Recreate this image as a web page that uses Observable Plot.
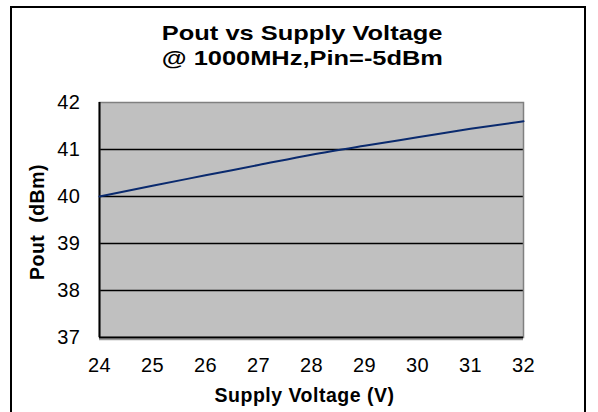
<!DOCTYPE html>
<html>
<head>
<meta charset="utf-8">
<script src="https://cdn.jsdelivr.net/npm/d3@7"></script>
<script src="https://cdn.jsdelivr.net/npm/@observablehq/plot@0.6"></script>
<style>
  html, body { margin: 0; padding: 0; background: #fff; }
  #wrap { position: relative; width: 598px; height: 412px; overflow: hidden; font-family: "Liberation Sans", Arial, sans-serif; }
  #frame { position: absolute; left: 10px; top: 6px; width: 572px; height: 420px; border: 2px solid #000; pointer-events: none; }
  #title { height: 90px; box-sizing: border-box; padding-top: 21px; text-align: center; font-weight: bold; font-size: 20.5px; line-height: 24.5px; color: #000; }
  #title span { display: inline-block; transform: scaleX(1.24); transform-origin: center; }
  #chart svg { display: block; }
</style>
</head>
<body>
<div id="wrap">
  <div id="title" style="padding-left:7px"><span>Pout vs Supply Voltage</span><br><span>@ 1000MHz,Pin=-5dBm</span></div>
  <div id="chart"></div>
  <div id="frame"></div>
</div>
<script>
const voltage = [24, 25, 26, 27, 28, 29, 30, 31, 32];
const pout = [40.00, 40.23, 40.45, 40.67, 40.89, 41.08, 41.26, 41.44, 41.60];
const xTicks = [24, 25, 26, 27, 28, 29, 30, 31, 32];
const yTicks = [37, 38, 39, 40, 41, 42];
const gridValues = [38, 39, 40, 41];
const xTitle = "Supply Voltage (V)";
const yTitle = "Pout  (dBm)";

const data = voltage.map((v, i) => ({v, p: pout[i]}));

const chart = Plot.plot({
  width: 598,
  height: 322,
  marginTop: 12,
  marginBottom: 75,
  marginLeft: 99,
  marginRight: 75,
  style: {fontFamily: '"Liberation Sans", Arial, sans-serif', fontSize: "20px", color: "#000", background: "transparent", letterSpacing: "0.5px"},
  x: {domain: [24, 32], ticks: xTicks},
  y: {domain: [37, 42], ticks: yTicks},
  marks: [
    Plot.frame({fill: "#c0c0c0"}),
    Plot.ruleY([37], {stroke: "#9a9a9a", strokeWidth: 1.5, dy: 2}),
    Plot.ruleY(gridValues, {stroke: "#000", strokeWidth: 1.6}),
    Plot.frame({stroke: "#808080", strokeWidth: 1.5}),
    Plot.ruleX([24], {stroke: "#000", strokeWidth: 2}),
    Plot.ruleY([37], {stroke: "#000", strokeWidth: 2}),
    Plot.line(data, {x: "v", y: "p", stroke: "#0a2a6e", strokeWidth: 2, curve: "monotone-x"}),
    Plot.axisX(xTicks, {tickSize: 0, tickPadding: 20, label: null, fontSize: 20}),
    Plot.axisY(yTicks, {tickSize: 0, tickPadding: 19, label: null, fontSize: 20}),
    Plot.text([xTitle], {frameAnchor: "bottom", dy: 58, dx: -7, fontWeight: "bold", fontSize: 19.5, lineAnchor: "middle", textAnchor: "middle", text: d => d, fill: "#000", style: "letter-spacing:0.8px"}),
    Plot.text([yTitle], {frameAnchor: "left", dx: -62, dy: 2, rotate: -90, fontWeight: "bold", fontSize: 19.5, lineAnchor: "middle", textAnchor: "middle", text: d => d, fill: "#000", style: "letter-spacing:1px"})
  ]
});
document.getElementById("chart").appendChild(chart);
</script>
</body>
</html>
